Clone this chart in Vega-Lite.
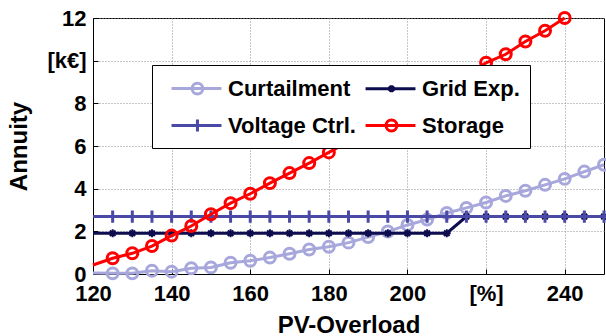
{
  "$schema": "https://vega.github.io/schema/vega-lite/v6.json",
  "autosize": {"type": "none"},
  "padding": {"left": 93, "top": 18, "right": 2, "bottom": 62},
  "width": 511,
  "height": 256,
  "background": "white",
  "config": {
    "font": "Liberation Sans",
    "view": {"stroke": "black", "strokeWidth": 1},
    "axis": {
      "labelFont": "Liberation Sans", "labelFontWeight": "bold", "labelFontSize": 22, "labelColor": "black",
      "titleFont": "Liberation Sans", "titleFontWeight": "bold", "titleFontSize": 24, "titleColor": "black",
      "domainColor": "black", "tickColor": "black",
      "gridColor": "#8c8c8c", "gridDash": [1, 2], "gridWidth": 1, "gridOpacity": 1
    }
  },
  "data": {"values": [
    {"series": "Curtailment", "x": 120, "y": 0.05}, {"series": "Curtailment", "x": 125, "y": 0.03}, {"series": "Curtailment", "x": 130, "y": 0.03},
    {"series": "Curtailment", "x": 135, "y": 0.15}, {"series": "Curtailment", "x": 140, "y": 0.11}, {"series": "Curtailment", "x": 145, "y": 0.27},
    {"series": "Curtailment", "x": 150, "y": 0.31}, {"series": "Curtailment", "x": 155, "y": 0.53}, {"series": "Curtailment", "x": 160, "y": 0.62},
    {"series": "Curtailment", "x": 165, "y": 0.77}, {"series": "Curtailment", "x": 170, "y": 0.95}, {"series": "Curtailment", "x": 175, "y": 1.15},
    {"series": "Curtailment", "x": 180, "y": 1.28}, {"series": "Curtailment", "x": 185, "y": 1.47}, {"series": "Curtailment", "x": 190, "y": 1.73},
    {"series": "Curtailment", "x": 195, "y": 1.99}, {"series": "Curtailment", "x": 200, "y": 2.3}, {"series": "Curtailment", "x": 205, "y": 2.55},
    {"series": "Curtailment", "x": 210, "y": 2.86}, {"series": "Curtailment", "x": 215, "y": 3.1}, {"series": "Curtailment", "x": 220, "y": 3.35},
    {"series": "Curtailment", "x": 225, "y": 3.66}, {"series": "Curtailment", "x": 230, "y": 3.9}, {"series": "Curtailment", "x": 235, "y": 4.18},
    {"series": "Curtailment", "x": 240, "y": 4.46}, {"series": "Curtailment", "x": 245, "y": 4.8}, {"series": "Curtailment", "x": 250, "y": 5.12},

    {"series": "Grid Exp.", "x": 120, "y": 1.91}, {"series": "Grid Exp.", "x": 125, "y": 1.91}, {"series": "Grid Exp.", "x": 130, "y": 1.91},
    {"series": "Grid Exp.", "x": 135, "y": 1.91}, {"series": "Grid Exp.", "x": 140, "y": 1.91}, {"series": "Grid Exp.", "x": 145, "y": 1.91},
    {"series": "Grid Exp.", "x": 150, "y": 1.91}, {"series": "Grid Exp.", "x": 155, "y": 1.91}, {"series": "Grid Exp.", "x": 160, "y": 1.91},
    {"series": "Grid Exp.", "x": 165, "y": 1.91}, {"series": "Grid Exp.", "x": 170, "y": 1.91}, {"series": "Grid Exp.", "x": 175, "y": 1.91},
    {"series": "Grid Exp.", "x": 180, "y": 1.91}, {"series": "Grid Exp.", "x": 185, "y": 1.91}, {"series": "Grid Exp.", "x": 190, "y": 1.91},
    {"series": "Grid Exp.", "x": 195, "y": 1.91}, {"series": "Grid Exp.", "x": 200, "y": 1.91}, {"series": "Grid Exp.", "x": 205, "y": 1.91},
    {"series": "Grid Exp.", "x": 210, "y": 1.91}, {"series": "Grid Exp.", "x": 215, "y": 2.69}, {"series": "Grid Exp.", "x": 220, "y": 2.69},
    {"series": "Grid Exp.", "x": 225, "y": 2.69}, {"series": "Grid Exp.", "x": 230, "y": 2.69}, {"series": "Grid Exp.", "x": 235, "y": 2.69},
    {"series": "Grid Exp.", "x": 240, "y": 2.69}, {"series": "Grid Exp.", "x": 245, "y": 2.69}, {"series": "Grid Exp.", "x": 250, "y": 2.69},

    {"series": "Voltage Ctrl.", "x": 120, "y": 2.69}, {"series": "Voltage Ctrl.", "x": 125, "y": 2.69}, {"series": "Voltage Ctrl.", "x": 130, "y": 2.69},
    {"series": "Voltage Ctrl.", "x": 135, "y": 2.69}, {"series": "Voltage Ctrl.", "x": 140, "y": 2.69}, {"series": "Voltage Ctrl.", "x": 145, "y": 2.69},
    {"series": "Voltage Ctrl.", "x": 150, "y": 2.69}, {"series": "Voltage Ctrl.", "x": 155, "y": 2.69}, {"series": "Voltage Ctrl.", "x": 160, "y": 2.69},
    {"series": "Voltage Ctrl.", "x": 165, "y": 2.69}, {"series": "Voltage Ctrl.", "x": 170, "y": 2.69}, {"series": "Voltage Ctrl.", "x": 175, "y": 2.69},
    {"series": "Voltage Ctrl.", "x": 180, "y": 2.69}, {"series": "Voltage Ctrl.", "x": 185, "y": 2.69}, {"series": "Voltage Ctrl.", "x": 190, "y": 2.69},
    {"series": "Voltage Ctrl.", "x": 195, "y": 2.69}, {"series": "Voltage Ctrl.", "x": 200, "y": 2.69}, {"series": "Voltage Ctrl.", "x": 205, "y": 2.69},
    {"series": "Voltage Ctrl.", "x": 210, "y": 2.69}, {"series": "Voltage Ctrl.", "x": 215, "y": 2.69}, {"series": "Voltage Ctrl.", "x": 220, "y": 2.69},
    {"series": "Voltage Ctrl.", "x": 225, "y": 2.69}, {"series": "Voltage Ctrl.", "x": 230, "y": 2.69}, {"series": "Voltage Ctrl.", "x": 235, "y": 2.69},
    {"series": "Voltage Ctrl.", "x": 240, "y": 2.69}, {"series": "Voltage Ctrl.", "x": 245, "y": 2.69}, {"series": "Voltage Ctrl.", "x": 250, "y": 2.69},

    {"series": "Storage", "x": 120, "y": 0.42}, {"series": "Storage", "x": 125, "y": 0.74}, {"series": "Storage", "x": 130, "y": 0.97},
    {"series": "Storage", "x": 135, "y": 1.31}, {"series": "Storage", "x": 140, "y": 1.8}, {"series": "Storage", "x": 145, "y": 2.25},
    {"series": "Storage", "x": 150, "y": 2.8}, {"series": "Storage", "x": 155, "y": 3.32}, {"series": "Storage", "x": 160, "y": 3.76},
    {"series": "Storage", "x": 165, "y": 4.26}, {"series": "Storage", "x": 170, "y": 4.73}, {"series": "Storage", "x": 175, "y": 5.2},
    {"series": "Storage", "x": 180, "y": 5.7}, {"series": "Storage", "x": 185, "y": 6.2}, {"series": "Storage", "x": 190, "y": 6.7},
    {"series": "Storage", "x": 195, "y": 7.2}, {"series": "Storage", "x": 200, "y": 7.75}, {"series": "Storage", "x": 205, "y": 8.25},
    {"series": "Storage", "x": 210, "y": 8.8}, {"series": "Storage", "x": 215, "y": 9.35}, {"series": "Storage", "x": 220, "y": 9.9},
    {"series": "Storage", "x": 225, "y": 10.3}, {"series": "Storage", "x": 230, "y": 10.9}, {"series": "Storage", "x": 235, "y": 11.4},
    {"series": "Storage", "x": 240, "y": 12.0}
  ]},
  "encoding": {
    "x": {"field": "x", "type": "quantitative",
      "scale": {"domain": [120, 250], "nice": false, "zero": false},
      "axis": {"title": "PV-Overload", "values": [120, 140, 160, 180, 200, 220, 240],
        "labelExpr": "datum.value == 220 ? '[%]' : datum.label",
        "tickSize": -5, "labelPadding": 14, "titlePadding": 9, "labelFlush": false}},
    "y": {"field": "y", "type": "quantitative",
      "scale": {"domain": [0, 12], "nice": false, "zero": false},
      "axis": {"title": "Annuity", "values": [0, 2, 4, 6, 8, 10, 12],
        "labelExpr": "datum.value == 10 ? '[k€]' : datum.label",
        "tickSize": -5, "labelPadding": 12, "titlePadding": 15, "labelFlush": false}}
  },
  "layer": [
    {"transform": [{"filter": "datum.series == 'Curtailment'"}],
     "mark": {"type": "line", "color": "#a7a7dc", "strokeWidth": 3}},
    {"transform": [{"filter": "datum.series == 'Curtailment' && datum.x >= 125"}],
     "mark": {"type": "point", "shape": "circle", "filled": false, "color": "#a7a7dc", "size": 120, "strokeWidth": 3, "opacity": 1}},
    {"transform": [{"filter": "datum.series == 'Grid Exp.'"}],
     "mark": {"type": "line", "color": "#0c0c4e", "strokeWidth": 3}},
    {"transform": [{"filter": "datum.series == 'Grid Exp.' && datum.x >= 125"}],
     "mark": {"type": "point", "shape": "M-1,0L1,0M0,-1L0,1M-0.7,-0.7L0.7,0.7M-0.7,0.7L0.7,-0.7", "filled": false, "color": "#0c0c4e", "size": 64, "strokeWidth": 2, "opacity": 1}},
    {"transform": [{"filter": "datum.series == 'Voltage Ctrl.'"}],
     "mark": {"type": "line", "color": "#4a4aa6", "strokeWidth": 3}},
    {"transform": [{"filter": "datum.series == 'Voltage Ctrl.' && datum.x >= 125"}],
     "mark": {"type": "point", "shape": "M-1,0L1,0M0,-1L0,1", "filled": false, "color": "#4a4aa6", "size": 150, "strokeWidth": 3, "opacity": 1}},
    {"transform": [{"filter": "datum.series == 'Storage'"}],
     "mark": {"type": "line", "color": "#ff0000", "strokeWidth": 3}},
    {"transform": [{"filter": "datum.series == 'Storage' && datum.x >= 125"}],
     "mark": {"type": "point", "shape": "circle", "filled": false, "color": "#ff0000", "size": 120, "strokeWidth": 3, "opacity": 1}},
    {"transform": [{"filter": "false"}],
     "mark": {"type": "point", "filled": false, "size": 576, "strokeWidth": 3, "opacity": 1},
     "encoding": {
       "color": {"field": "series", "type": "nominal",
         "scale": {"domain": ["Curtailment", "Voltage Ctrl.", "Grid Exp.", "Storage"], "range": ["#a7a7dc", "#4a4aa6", "#0c0c4e", "#ff0000"]},
         "legend": {"title": null, "orient": "none", "legendX": 59, "legendY": 47, "columns": 2,
           "fillColor": "white", "strokeColor": "black", "padding": 10, "rowPadding": 12, "columnPadding": -6,
           "labelFont": "Liberation Sans", "labelFontWeight": "bold", "labelFontSize": 22, "labelColor": "black", "labelLimit": 400,
           "labelOffset": 39, "symbolSize": 576, "symbolStrokeWidth": 3, "symbolFillColor": "transparent"}},
       "shape": {"field": "series", "type": "nominal",
         "scale": {"domain": ["Curtailment", "Voltage Ctrl.", "Grid Exp.", "Storage"],
           "range": [
             "M-0.33,0L3.83,0M1.38,0A0.45,0.45 0 1,0 2.28,0A0.45,0.45 0 1,0 1.38,0",
             "M-0.33,0L3.83,0M1.33,0L2.33,0M1.83,-0.5L1.83,0.5",
             "M-0.33,0L3.83,0M1.53,0L2.13,0M1.83,-0.3L1.83,0.3M1.62,-0.21L2.04,0.21M1.62,0.21L2.04,-0.21",
             "M-0.33,0L3.83,0M1.38,0A0.45,0.45 0 1,0 2.28,0A0.45,0.45 0 1,0 1.38,0"
           ]},
         "legend": {"title": null, "orient": "none", "legendX": 59, "legendY": 47, "columns": 2,
           "fillColor": "white", "strokeColor": "black", "padding": 10, "rowPadding": 12, "columnPadding": -6,
           "labelFont": "Liberation Sans", "labelFontWeight": "bold", "labelFontSize": 22, "labelColor": "black", "labelLimit": 400,
           "labelOffset": 39, "symbolSize": 576, "symbolStrokeWidth": 3, "symbolFillColor": "transparent"}}
     }}
  ]
}
